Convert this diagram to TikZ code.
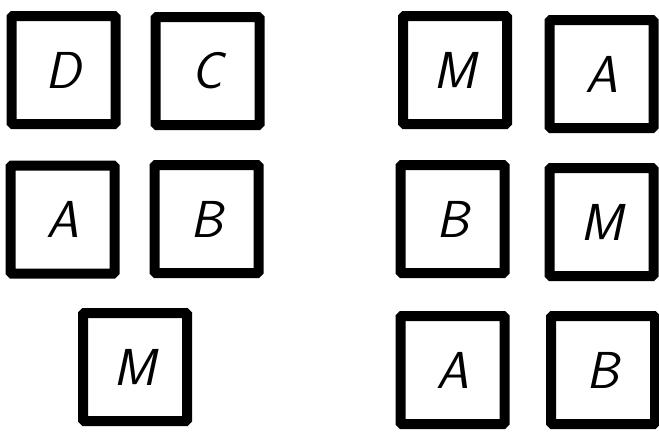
\documentclass[tikz,border=0pt]{standalone}
\begin{document}
\begin{tikzpicture}[x=1pt,y=-1pt,
      tile/.style={draw,line width=10pt,rounded corners=1.5pt,
        minimum width=104pt,minimum height=108pt,inner sep=0pt,
        font=\fontsize{52}{52}\selectfont\sffamily\itshape}]
      \useasboundingbox (0,0) rectangle (659,432);
      \clip (0,0) rectangle (659,432);
      % left group
      \foreach \name/\x/\y/\txt in {d/63.5/70/D,c/207.5/71/C,a1/62.5/219.5/A,b1/206.5/219/B,m1/135/367/M} {
        \node[tile] (\name) at (\x,\y) {\txt};
      }
      % right group
      \foreach \name/\x/\y/\txt in {m2/455/70/M,a2/601.5/74/A,b2/452.5/219/B,m3/601.5/222/M,a3/452.5/370/A,b3/603/370/B} {
        \node[tile] (\name) at (\x,\y) {\txt};
      }
    \end{tikzpicture}
\end{document}
